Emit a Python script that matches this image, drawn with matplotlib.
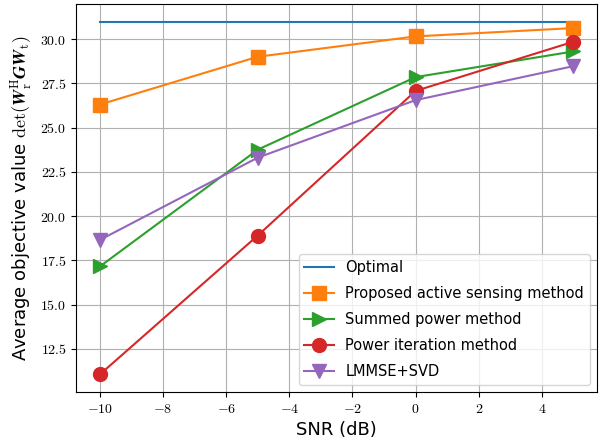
import matplotlib
matplotlib.use('Agg')
import matplotlib.pyplot as plt
from matplotlib.ticker import FuncFormatter

plt.rcParams['mathtext.fontset'] = 'cm'
plt.rcParams['font.family'] = ['DejaVu Sans']

snr = [-10, -5, 0, 5]
optimal = [30.96, 30.96, 30.96, 30.96]
proposed = [26.3, 29.0, 30.15, 30.62]
summed = [17.15, 23.75, 27.85, 29.3]
power_iter = [11.05, 18.9, 27.07, 29.85]
lmmse = [18.65, 23.3, 26.55, 28.47]

fig, ax = plt.subplots(figsize=(6.05, 4.44), dpi=100)

ax.plot(snr, optimal, color='C0', lw=1.5, label='Optimal')
ax.plot(snr, proposed, color='C1', lw=1.5, marker='s', ms=10,
        label='Proposed active sensing method')
ax.plot(snr, summed, color='C2', lw=1.5, marker='>', ms=10,
        label='Summed power method')
ax.plot(snr, power_iter, color='C3', lw=1.5, marker='o', ms=10,
        label='Power iteration method')
ax.plot(snr, lmmse, color='C4', lw=1.5, marker='v', ms=10,
        label='LMMSE+SVD')

ax.grid(True)
ax.xaxis.set_major_formatter(FuncFormatter(lambda v, p: r'$%d$' % round(v)))
ax.yaxis.set_major_formatter(FuncFormatter(lambda v, p: r'$%.1f$' % v))
ax.tick_params(labelsize=10)

ax.set_xlabel('SNR (dB)', fontsize=13)
ax.set_ylabel(r'Average objective value $\det(\boldsymbol{W}_\mathrm{r}^\mathrm{H}'
              r'\boldsymbol{G}\boldsymbol{W}_\mathrm{t})$', fontsize=13)
ax.legend(loc='lower right', fontsize=10.5, labelspacing=0.75)

fig.subplots_adjust(left=0.126, right=0.987, top=0.99, bottom=0.117)
fig.savefig('out.png')
